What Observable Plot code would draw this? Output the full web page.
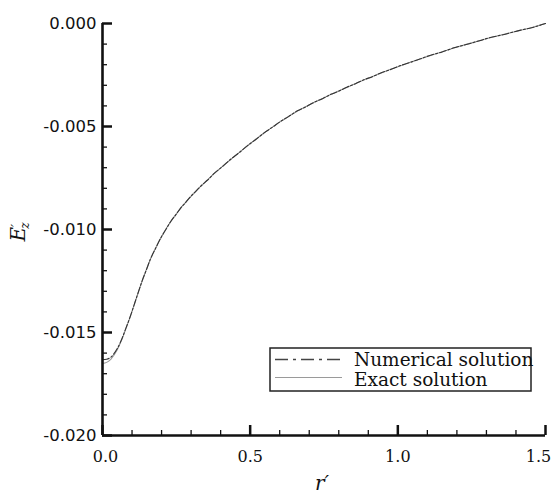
<!DOCTYPE html>
<html><head><meta charset="utf-8">
<script src="https://cdn.jsdelivr.net/npm/d3@7"></script>
<script src="https://cdn.jsdelivr.net/npm/@observablehq/plot@0.6"></script>
<style>
body{margin:0;background:#fff;}
#chart{position:relative;width:551px;height:497px;}
</style>
</head><body>
<div id="chart"></div>
<script>
// Exact solution
const rExact = [0, 0.014, 0.028, 0.05, 0.065, 0.079, 0.093, 0.107, 0.121, 0.135, 0.149, 0.163, 0.18, 0.197, 0.214, 0.231, 0.248, 0.265, 0.282, 0.299, 0.316, 0.333, 0.355, 0.378, 0.405, 0.434, 0.462, 0.491, 0.519, 0.547, 0.575, 0.603, 0.631, 0.66, 0.688, 0.716, 0.745, 0.773, 0.801, 0.829, 0.857, 0.885, 0.914, 0.942, 0.971, 1.0, 1.054, 1.111, 1.15, 1.19, 1.25, 1.303, 1.36, 1.416, 1.46, 1.5];
const eExact = [-0.01650, -0.01645, -0.01630, -0.01584, -0.01536, -0.01482, -0.01428, -0.01368, -0.01305, -0.01248, -0.01193, -0.01142, -0.01090, -0.01043, -0.01000, -0.00962, -0.00928, -0.00896, -0.00867, -0.00840, -0.00814, -0.00790, -0.00760, -0.00729, -0.00695, -0.00660, -0.00627, -0.00594, -0.00562, -0.00532, -0.00503, -0.00476, -0.00450, -0.00425, -0.00404, -0.00384, -0.00364, -0.00345, -0.00327, -0.00309, -0.00291, -0.00274, -0.00257, -0.00241, -0.00225, -0.00210, -0.00182, -0.00155, -0.00137, -0.00119, -0.00094, -0.00073, -0.00052, -0.00033, -0.00017, 0.00000];
// Numerical solution
const rNum = [0, 0.014, 0.028, 0.05, 0.065, 0.079, 0.093, 0.107, 0.121, 0.135, 0.149, 0.163, 0.18, 0.197, 0.214, 0.231, 0.248, 0.265, 0.282, 0.299, 0.316, 0.333, 0.355, 0.378, 0.405, 0.434, 0.462, 0.491, 0.519, 0.547, 0.575, 0.603, 0.631, 0.66, 0.688, 0.716, 0.745, 0.773, 0.801, 0.829, 0.857, 0.885, 0.914, 0.942, 0.971, 1.0, 1.054, 1.111, 1.15, 1.19, 1.25, 1.303, 1.36, 1.416, 1.46, 1.5];
const eNum = [-0.01632, -0.01630, -0.01620, -0.01578, -0.01533, -0.01480, -0.01426, -0.01366, -0.01306, -0.01246, -0.01194, -0.01141, -0.01091, -0.01042, -0.01001, -0.00961, -0.00929, -0.00895, -0.00868, -0.00839, -0.00815, -0.00789, -0.00761, -0.00728, -0.00696, -0.00659, -0.00628, -0.00593, -0.00563, -0.00531, -0.00504, -0.00475, -0.00451, -0.00424, -0.00405, -0.00383, -0.00365, -0.00344, -0.00328, -0.00308, -0.00292, -0.00273, -0.00258, -0.00240, -0.00226, -0.00209, -0.00183, -0.00154, -0.00138, -0.00118, -0.00095, -0.00072, -0.00053, -0.00032, -0.00018, 0.00000];

const seriesNames = ["Numerical solution", "Exact solution"];
const xMajor = [0, 0.5, 1.0, 1.5];
const xMinor = [0.1, 0.2, 0.3, 0.4, 0.6, 0.7, 0.8, 0.9, 1.1, 1.2, 1.3, 1.4];
const yMajor = [-0.020, -0.015, -0.010, -0.005, 0.000];
const yMinor = [-0.019, -0.018, -0.017, -0.016, -0.014, -0.013, -0.012, -0.011, -0.009, -0.008, -0.007, -0.006, -0.004, -0.003, -0.002, -0.001];

const exact = rExact.map((r, i) => ({r, e: eExact[i]}));
const num = rNum.map((r, i) => ({r, e: eNum[i]}));

const xFont = {tickSize: 0, tickPadding: 15, tickFormat: d => d.toFixed(1), fontSize: 16, fontFamily: "DejaVu Serif", label: null};

const plot = Plot.plot({
  width: 551, height: 497,
  marginLeft: 102, marginRight: 6, marginTop: 23, marginBottom: 62,
  style: {background: "#fff", color: "#111"},
  x: {domain: [0, 1.5]},
  y: {domain: [-0.020, 0.000]},
  marks: [
    Plot.line(exact, {x: "r", y: "e", stroke: "#9a9a9a", strokeWidth: 1.1, curve: "monotone-x"}),
    Plot.line(num, {x: "r", y: "e", stroke: "#333", strokeWidth: 1.1, strokeDasharray: "7,2,2,2", curve: "monotone-x"}),
    Plot.axisX(xMinor, {tickSize: -5, strokeWidth: 1.3, tickFormat: () => "", label: null}),
    Plot.axisX(xMajor, {tickSize: -10, strokeWidth: 2.5, tickFormat: () => "", label: null}),
    Plot.axisX(xMajor.slice(0, 1), {...xFont, dx: 3}),
    Plot.axisX(xMajor.slice(1, 3), {...xFont}),
    Plot.axisX(xMajor.slice(3), {...xFont, dx: -7}),
    Plot.axisY(yMinor, {tickSize: -5, strokeWidth: 1.3, tickFormat: () => "", label: null}),
    Plot.axisY(yMajor, {tickSize: -10, strokeWidth: 2.5, tickFormat: () => "", label: null}),
    Plot.axisY(yMajor, {tickSize: 0, tickPadding: 6, tickFormat: d => d.toFixed(3), fontSize: 16.5, fontFamily: "DejaVu Sans", label: null}),
    Plot.ruleX([0], {strokeWidth: 2.6, stroke: "#111"}),
    Plot.ruleY([-0.020], {strokeWidth: 2.6, stroke: "#111"})
  ]
});
document.getElementById("chart").appendChild(plot);

const svg = d3.select(plot);
// axis labels
svg.append("text")
  .attr("x", 322).attr("y", 490)
  .attr("text-anchor", "middle")
  .attr("font-family", "DejaVu Serif").attr("font-style", "italic").attr("font-size", 20).attr("fill", "#111")
  .text("r\u2032");
const ey = svg.append("text")
  .attr("transform", "translate(25,232) rotate(-90)")
  .attr("text-anchor", "middle")
  .attr("font-family", "DejaVu Serif").attr("font-style", "italic").attr("font-size", 20).attr("fill", "#111");
ey.append("tspan").text("E");
ey.append("tspan").attr("dy", -3).attr("font-size", 14).text("\u2032");
ey.append("tspan").attr("dx", -5).attr("dy", 7).attr("font-size", 12).text("z");

// legend
const lg = svg.append("g").attr("text-anchor", "start");
lg.append("rect").attr("x", 270).attr("y", 348).attr("width", 261).attr("height", 43)
  .attr("fill", "#fff").attr("stroke", "#222").attr("stroke-width", 1.5);
lg.append("line").attr("x1", 275).attr("x2", 342).attr("y1", 359.5).attr("y2", 359.5)
  .attr("stroke", "#444").attr("stroke-width", 1.4).attr("stroke-dasharray", "13,5,3,5");
lg.append("line").attr("x1", 275).attr("x2", 342).attr("y1", 377.5).attr("y2", 377.5)
  .attr("stroke", "#9a9a9a").attr("stroke-width", 1.2);
seriesNames.forEach((s, i) => {
  lg.append("text").attr("x", 354).attr("y", 366 + i * 19.5)
    .attr("text-anchor", "start")
    .attr("font-family", "DejaVu Serif").attr("font-size", 18.5).attr("fill", "#111")
    .text(s);
});
</script>
</body></html>
